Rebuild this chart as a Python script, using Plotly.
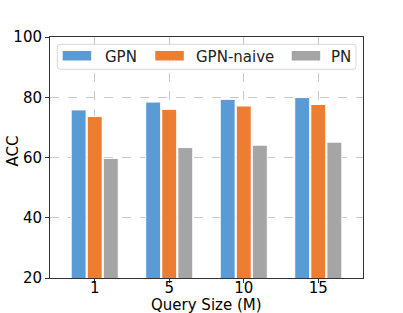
import plotly.graph_objects as go

categories = ["1", "5", "10", "15"]
gpn = [75.8, 78.4, 79.3, 79.9]
gpn_naive = [73.6, 76.0, 77.1, 77.6]
pn = [59.7, 63.3, 64.1, 65.1]
series_names = ["GPN", "GPN-naive", "PN"]
colors = ["#5B9BD5", "#ED7D31", "#A5A5A5"]
y_ticks = [20, 40, 60, 80, 100]

font = "DejaVu Sans, sans-serif"

fig = go.Figure()
for name, vals, col in zip(series_names, [gpn, gpn_naive, pn], colors):
    fig.add_trace(go.Bar(
        x=categories, y=vals, name=name, showlegend=False,
        marker=dict(color=col, line=dict(color="white", width=1)),
    ))

# plot area in page pixels
PX0, PX1, PY0, PY1 = 50, 363, 37, 278
W, H = 403, 313
def px(x):
    return (x - PX0) / (PX1 - PX0)
def py(y):
    return (PY1 - y) / (PY1 - PY0)

# legend (matplotlib-style) built from names/colors
shapes = []
annotations = []
bx0, bx1, by0, by1, r = 57.3, 356, 44.3, 69.3, 3
path = (f"M {px(bx0 + r)} {py(by0)} L {px(bx1 - r)} {py(by0)} "
        f"Q {px(bx1)} {py(by0)} {px(bx1)} {py(by0 + r)} "
        f"L {px(bx1)} {py(by1 - r)} Q {px(bx1)} {py(by1)} {px(bx1 - r)} {py(by1)} "
        f"L {px(bx0 + r)} {py(by1)} Q {px(bx0)} {py(by1)} {px(bx0)} {py(by1 - r)} "
        f"L {px(bx0)} {py(by0 + r)} Q {px(bx0)} {py(by0)} {px(bx0 + r)} {py(by0)} Z")
shapes.append(dict(type="path", xref="paper", yref="paper", path=path,
                   fillcolor="rgba(255,255,255,0.8)", line=dict(color="#d6d6d6", width=1),
                   layer="above"))
swatch_x = [62.7, 155.3, 291.7]
text_x = [102.7, 193.5, 328.5]
for name, col, sx, tx in zip(series_names, colors, swatch_x, text_x):
    shapes.append(dict(type="rect", xref="paper", yref="paper",
                       x0=px(sx), x1=px(sx + 28.5), y0=py(51), y1=py(60.5),
                       fillcolor=col, line=dict(width=0), layer="above"))
    annotations.append(dict(text=name, xref="paper", yref="paper", x=px(tx), y=py(56.5),
                            xanchor="left", yanchor="middle", showarrow=False,
                            font=dict(family=font, size=15, color="#222")))

annotations.append(dict(text="Query Size (M)", xref="paper", yref="paper",
                        x=px(206.5), y=py(304.5), xanchor="center", yanchor="middle",
                        showarrow=False, font=dict(family=font, size=15, color="black")))
annotations.append(dict(text="ACC", xref="paper", yref="paper",
                        x=px(12.5), y=py(151), xanchor="center", yanchor="middle",
                        textangle=-90, showarrow=False,
                        font=dict(family=font, size=15, color="black")))

fig.update_layout(
    width=W, height=H,
    margin=dict(l=PX0, r=W - PX1, t=PY0, b=H - PY1, autoexpand=False),
    paper_bgcolor="white", plot_bgcolor="white",
    barmode="group", bargap=0.353, bargroupgap=0.07,
    font=dict(family=font, size=15, color="black"),
    showlegend=False,
    shapes=shapes, annotations=annotations,
    xaxis=dict(
        type="category", range=[-0.6, 3.6], automargin=False,
        showline=True, linecolor="#333", linewidth=1, mirror=True,
        ticks="outside", ticklen=4, tickcolor="#333",
        showgrid=True, gridcolor="#c8c8c8", griddash="dash", gridwidth=1,
        tickfont=dict(size=15), ticklabelstandoff=-8,
    ),
    yaxis=dict(
        range=[20, 100], tickvals=y_ticks, automargin=False,
        showline=True, linecolor="#333", linewidth=1, mirror=True,
        ticks="outside", ticklen=4, tickcolor="#333",
        showgrid=True, gridcolor="#c8c8c8", griddash="dash", gridwidth=1,
        tickfont=dict(size=15), zeroline=False,
    ),
)
fig.write_html("out.html", config={"displayModeBar": False},
               post_script="document.body.style.margin='0';document.body.style.overflow='hidden';")
